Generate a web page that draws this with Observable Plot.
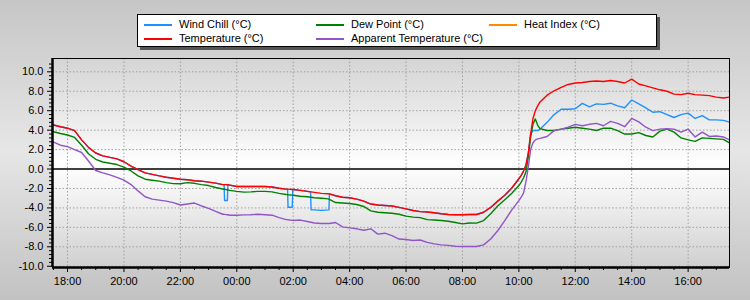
<!DOCTYPE html>
<html><head><meta charset="utf-8">
<script src="https://cdn.jsdelivr.net/npm/d3@7"></script>
<script src="https://cdn.jsdelivr.net/npm/@observablehq/plot@0.6"></script>
<style>
html,body{margin:0;padding:0;}
body{width:750px;height:300px;overflow:hidden;background:linear-gradient(#c6c6c6 0%, #e6e6e6 50%, #c2c2c2 100%);font-family:"Liberation Sans",Arial,sans-serif;}
#wrap{position:relative;width:750px;height:300px;}
#plotbg{position:absolute;left:52px;top:58px;width:677px;height:209px;background:linear-gradient(#d4d4d4 0%, #f0f0f0 35%, #ffffff 50%, #f0f0f0 68%, #d0d0d0 100%);}
#legend{position:absolute;left:137px;top:14px;width:518px;height:31px;background:#fff;border:1px solid #000;box-shadow:3px 3px 0 #555;font-size:11px;color:#000;}
.li{position:absolute;height:14px;}
.li .sw{position:absolute;left:0;top:7px;width:28px;height:1.5px;}
.li .tx{position:absolute;left:35px;top:0;white-space:nowrap;line-height:14px;}
#chart{position:absolute;left:0;top:50px;}
</style>
</head><body>
<div id="wrap">
  <div id="plotbg"></div>
  <div id="legend"></div>
  <div id="chart"></div>
</div>
<script>
// Times (24 h window), shared by all series
const times = ["17:28","17:45","18:00","18:15","18:30","18:45","19:00","19:15","19:30","19:45",
"20:00","20:15","20:30","20:45","21:00","21:15","21:30","21:45","22:00","22:15","22:30","22:45",
"23:00","23:15","23:30","23:33","23:34","23:40","23:41","23:45",
"00:00","00:15","00:30","00:45","01:00","01:15","01:30","01:45","01:48","01:49","01:58","01:59",
"02:00","02:15","02:30","02:37","02:38","02:45","03:00","03:15","03:16","03:17","03:30","03:45",
"04:00","04:15","04:30","04:45","05:00","05:15","05:30","05:45","06:00","06:15","06:30","06:45",
"07:00","07:15","07:30","07:45","08:00","08:15","08:30","08:45","09:00","09:15","09:30","09:45",
"10:00","10:05","10:10","10:15","10:20","10:25","10:30","10:35","10:40","10:45",
"11:00","11:15","11:30","11:45","12:00","12:15","12:30","12:45","13:00","13:15","13:30","13:45",
"14:00","14:15","14:30","14:45","15:00","15:15","15:30","15:45","16:00","16:15","16:30","16:45",
"17:00","17:15","17:28"];

const temperature = [4.55,4.35,4.2,3.95,3.0,2.2,1.65,1.35,1.2,1.05,
0.75,0.3,-0.05,-0.4,-0.55,-0.7,-0.85,-0.95,-1.05,-1.1,-1.2,-1.25,
-1.35,-1.45,-1.6,-1.6,-1.6,-1.62,-1.62,-1.65,
-1.8,-1.8,-1.78,-1.8,-1.8,-1.85,-1.98,-2.07,-2.07,-2.07,-2.1,-2.1,
-2.1,-2.2,-2.3,-2.35,-2.35,-2.4,-2.5,-2.55,-2.56,-2.56,-2.75,-2.9,
-2.95,-3.1,-3.3,-3.6,-3.7,-3.75,-3.8,-3.95,-4.1,-4.27,-4.38,-4.42,
-4.5,-4.6,-4.68,-4.7,-4.7,-4.68,-4.68,-4.45,-3.95,-3.3,-2.7,-1.95,
-1.0,-0.65,-0.2,0.4,1.6,3.6,5.2,6.0,6.5,6.9,
7.6,8.05,8.4,8.7,8.85,8.9,9.0,9.05,9.0,9.1,9.0,8.85,
9.25,8.75,8.55,8.35,8.15,8.0,7.7,7.65,7.8,7.65,7.6,7.55,
7.4,7.3,7.4];

const dewPoint = [3.86,3.65,3.5,3.25,2.45,1.55,1.0,0.72,0.6,0.46,
0.2,-0.2,-0.7,-1.05,-1.15,-1.25,-1.4,-1.5,-1.52,-1.4,-1.47,-1.6,
-1.7,-1.9,-2.05,-2.08,-2.08,-2.15,-2.15,-2.2,
-2.3,-2.38,-2.35,-2.3,-2.3,-2.35,-2.5,-2.62,-2.63,-2.64,-2.68,-2.68,
-2.7,-2.8,-2.85,-2.9,-2.9,-2.95,-3.0,-3.07,-3.1,-3.12,-3.45,-3.5,
-3.55,-3.65,-3.85,-4.3,-4.45,-4.5,-4.55,-4.65,-4.85,-4.95,-5.0,-5.2,
-5.25,-5.3,-5.37,-5.5,-5.64,-5.55,-5.57,-5.3,-4.6,-3.8,-3.15,-2.5,
-1.7,-1.35,-0.9,-0.3,1.2,3.3,4.6,5.16,4.5,4.15,
3.96,3.96,4.1,4.2,4.3,4.2,4.1,3.96,4.2,4.2,3.95,3.6,
3.6,3.75,3.45,3.3,3.9,4.1,3.8,3.2,3.0,2.85,3.2,3.15,
3.1,3.05,2.7];

const apparentTemp = [2.83,2.45,2.3,2.0,1.7,0.8,-0.15,-0.4,-0.6,-0.85,
-1.15,-1.6,-2.25,-2.85,-3.1,-3.2,-3.3,-3.45,-3.7,-3.6,-3.5,-3.8,
-4.05,-4.35,-4.65,-4.65,-4.66,-4.7,-4.7,-4.75,
-4.75,-4.72,-4.7,-4.65,-4.7,-4.75,-5.0,-5.2,-5.2,-5.22,-5.28,-5.28,
-5.3,-5.25,-5.4,-5.47,-5.47,-5.55,-5.6,-5.6,-5.6,-5.6,-5.5,-5.95,
-6.05,-6.15,-6.3,-6.15,-6.7,-6.6,-6.85,-7.2,-7.25,-7.35,-7.3,-7.55,
-7.7,-7.8,-7.85,-7.95,-7.97,-7.97,-7.97,-7.8,-7.2,-6.35,-5.3,-4.2,
-3.25,-2.9,-2.45,-1.3,0.2,2.0,2.7,3.0,3.1,3.15,
3.35,3.95,4.1,4.3,4.6,4.45,4.6,4.7,4.45,4.9,4.7,4.35,
5.2,4.85,4.3,3.95,4.1,4.15,4.1,3.8,4.1,3.3,3.8,3.35,
3.4,3.3,3.0];

const windChill = [4.55,4.35,4.2,3.95,3.0,2.2,1.65,1.35,1.2,1.05,
0.75,0.3,-0.05,-0.4,-0.55,-0.7,-0.85,-0.95,-1.05,-1.1,-1.2,-1.25,
-1.35,-1.45,-1.6,-1.6,-3.24,-3.24,-1.62,-1.65,
-1.8,-1.8,-1.78,-1.8,-1.8,-1.85,-1.98,-2.07,-2.07,-3.93,-3.93,-2.1,
-2.1,-2.2,-2.3,-2.35,-4.2,-4.2,-4.25,-4.2,-4.2,-2.56,-2.75,-2.9,
-2.95,-3.1,-3.3,-3.6,-3.7,-3.75,-3.8,-3.95,-4.1,-4.27,-4.38,-4.42,
-4.5,-4.6,-4.68,-4.7,-4.7,-4.68,-4.68,-4.45,-3.95,-3.3,-2.7,-1.95,
-1.0,-0.65,-0.2,0.4,1.6,3.6,3.96,3.96,3.96,4.1,
4.8,5.6,6.15,6.15,6.2,6.75,6.4,6.7,6.65,6.77,6.5,6.3,
7.1,6.7,6.3,5.84,5.9,5.6,5.3,5.6,5.75,5.2,5.5,5.06,
5.06,5.0,4.82];

const legendNames = ["Wind Chill (°C)","Dew Point (°C)","Heat Index (°C)","Temperature (°C)","Apparent Temperature (°C)"];
const legendColors = ["#1e90ff","#008000","#ff8c00","#ff0000","#9155c8"];

const yTickValues = [-10,-8,-6,-4,-2,0,2,4,6,8,10];

// ---- build ----
function parseTimes(list){
  let day = 0, prev = -1;
  return list.map(s => {
    const [h, m] = s.split(":").map(Number);
    const mins = h * 60 + m;
    if (mins < prev) day++;
    prev = mins;
    return new Date(Date.UTC(2024, 0, 1 + day, h, m));
  });
}
const T = parseTimes(times);
const xStart = T[0], xEnd = T[T.length - 1];
const yMin = -10.13, yMax = 11.37;

const seriesList = [
  {name: legendNames[0], color: legendColors[0], values: windChill},
  {name: legendNames[1], color: legendColors[1], values: dewPoint},
  {name: legendNames[3], color: legendColors[3], values: temperature},
  {name: legendNames[4], color: legendColors[4], values: apparentTemp}
];

const majorX = d3.utcHour.every(2).range(xStart, xEnd);
const majorSet = new Set(majorX.map(d => +d));
const minorX = d3.utcMinute.every(30).range(xStart, xEnd).filter(d => !majorSet.has(+d));
const minorY = d3.range(-10, 11.2, 0.4).map(v => +v.toFixed(1)).filter(v => !yTickValues.includes(v) && v <= yMax);
const gridYVals = yTickValues.filter(v => v !== 0);

const lineMarks = seriesList.map(s =>
  Plot.line(T.map((t, i) => ({time: t, value: s.values[i]})),
    {x: "time", y: "value", stroke: s.color, strokeWidth: 1.4, strokeLinejoin: "round"}));

const chart = Plot.plot({
  width: 750, height: 250,
  marginTop: 8, marginBottom: 33, marginLeft: 52, marginRight: 21,
  style: {background: "transparent", color: "#000", fontFamily: "'Liberation Sans', Arial, sans-serif", fontSize: "11px", overflow: "visible"},
  x: {type: "utc", domain: [xStart, xEnd], label: null},
  y: {domain: [yMin, yMax], label: null},
  marks: [
    Plot.gridX(majorX, {stroke: "#a0a0a0", strokeOpacity: 1, strokeDasharray: "1.5,2"}),
    Plot.gridY(gridYVals, {stroke: "#a0a0a0", strokeOpacity: 1, strokeDasharray: "1.5,2"}),
    Plot.ruleY([0], {stroke: "#000", strokeWidth: 1.5}),
    ...lineMarks,
    Plot.frame({stroke: "#000"}),
    Plot.ruleX([xStart], {stroke: "#000", strokeWidth: 2.5}),
    Plot.ruleY([yMin], {stroke: "#000", strokeWidth: 2.5}),
    Plot.axisX(minorX, {tickSize: 3, tickFormat: () => ""}),
    Plot.axisX(majorX, {tickSize: 5, tickPadding: 5, tickFormat: d3.utcFormat("%H:%M")}),
    Plot.axisY(minorY, {tickSize: 3, tickFormat: () => ""}),
    Plot.axisY(yTickValues, {tickSize: 5, tickPadding: 4, tickFormat: d => d.toFixed(1)})
  ]
});
document.getElementById("chart").appendChild(chart);

// legend
const legend = document.getElementById("legend");
const pos = [[6,2],[178,2],[351,2],[6,16],[178,16]];
legendNames.forEach((n, i) => {
  const el = document.createElement("div");
  el.className = "li";
  el.style.left = pos[i][0] + "px";
  el.style.top = pos[i][1] + "px";
  el.innerHTML = `<div class="sw" style="background:${legendColors[i]}"></div><div class="tx">${n}</div>`;
  legend.appendChild(el);
});
</script>
</body></html>
